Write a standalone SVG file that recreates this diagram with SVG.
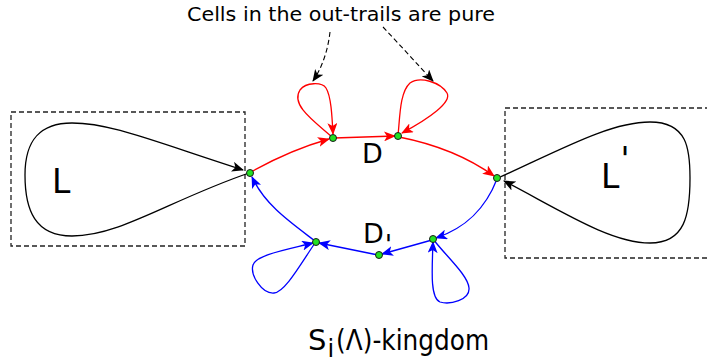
<svg xmlns="http://www.w3.org/2000/svg" width="707" height="362" viewBox="0 0 707 362">
<style>
text{font-family:"DejaVu Sans","Liberation Sans",sans-serif;fill:#000}
.box{fill:none;stroke:#222;stroke-width:1.3;stroke-dasharray:5,3}
.blk{fill:none;stroke:#000;stroke-width:1.3}
.red{fill:none;stroke:#f00;stroke-width:1.3}
.blue{fill:none;stroke:#00f;stroke-width:1.3}
.dash{fill:none;stroke:#000;stroke-width:1.1;stroke-dasharray:5,3}
.node{fill:#22e022;stroke:#1a1a1a;stroke-width:1}
</style>
<defs>
<marker id="ak" viewBox="0 0 12 10" refX="11" refY="5" markerWidth="12" markerHeight="10" markerUnits="userSpaceOnUse" orient="auto"><path d="M0,0 L12,5 L0,10 L3,5 z" fill="#000"/></marker>
<marker id="ar" viewBox="0 0 12 10" refX="11" refY="5" markerWidth="12" markerHeight="10" markerUnits="userSpaceOnUse" orient="auto"><path d="M0,0 L12,5 L0,10 L3,5 z" fill="#f00"/></marker>
<marker id="ab" viewBox="0 0 12 10" refX="11" refY="5" markerWidth="12" markerHeight="10" markerUnits="userSpaceOnUse" orient="auto"><path d="M0,0 L12,5 L0,10 L3,5 z" fill="#00f"/></marker>
</defs>
<g id="boxes">
<rect class="box" x="11" y="112" width="234" height="134"/>
<rect class="box" x="505" y="108" width="210" height="150"/>
</g>
<g id="connectors">
<path class="blk" d="M249,173 C170,200 120,236 72,236 C35,236 25,210 25,175 C25,140 40,123 72,123 C110,123 150,140 243,170" marker-end="url(#ak)"/>
<path class="blk" d="M498,178 C560,150 610,122 650,122 C688,122 690,150 690,178 C690,215 685,243 650,243 C610,243 560,210 504,181" marker-end="url(#ak)"/>
<path class="red" d="M251,172 Q290,150 329,139" marker-end="url(#ar)"/>
<path class="red" d="M334,138 L395,136" marker-end="url(#ar)"/>
<path class="red" d="M399,137 Q455,148 494,176" marker-end="url(#ar)"/>
<path class="red" d="M332,137 C315,122 290,105 300,90 C306,82 322,82 326,88 C331,96 332,115 333,134" marker-end="url(#ar)"/>
<path class="red" d="M398,136 C400,115 400,92 410,83 C420,76 440,82 447,93 C452,102 430,118 402,133" marker-end="url(#ar)"/>
<path class="dash" d="M330,32 C328,50 322,68 313,81" marker-end="url(#ak)"/>
<path class="dash" d="M383,27 C400,45 418,65 433,81" marker-end="url(#ak)"/>
<path class="blue" d="M497,179 C485,210 465,228 436,238" marker-end="url(#ab)"/>
<path class="blue" d="M432,240 L382,254" marker-end="url(#ab)"/>
<path class="blue" d="M378,255 L319,243" marker-end="url(#ab)"/>
<path class="blue" d="M315,241 C290,222 265,205 252,177" marker-end="url(#ab)"/>
<path class="blue" d="M315,243 C300,265 285,292 274,293 C262,294 250,275 253,265 C256,255 285,250 313,243" marker-end="url(#ab)"/>
<path class="blue" d="M433,239 C445,255 468,275 469,288 C470,300 450,305 440,302 C430,298 432,270 433,242" marker-end="url(#ab)"/>
</g>
<g id="n1"><circle class="node" cx="250" cy="173" r="3.5"/></g>
<g id="n2"><circle class="node" cx="333" cy="138" r="3.5"/></g>
<g id="n3"><circle class="node" cx="398" cy="136" r="3.5"/></g>
<g id="n4"><circle class="node" cx="497" cy="178" r="3.5"/></g>
<g id="n5"><circle class="node" cx="433" cy="239" r="3.5"/></g>
<g id="n6"><circle class="node" cx="379" cy="255" r="3.5"/></g>
<g id="n7"><circle class="node" cx="316" cy="242" r="3.5"/></g>
<g id="labels">
<text x="187" y="21" font-size="20" textLength="308" lengthAdjust="spacingAndGlyphs">Cells in the out-trails are pure</text>
<text x="52" y="193" font-size="33">L</text>
<text x="601" y="188" font-size="33">L<tspan dy="-17" dx="1">'</tspan></text>
<text x="362" y="163" font-size="27">D</text>
<text x="363" y="243" font-size="27">D<tspan dy="11" dx="1">'</tspan></text>
<text x="308" y="350" font-size="29">S<tspan dy="7" dx="1" font-size="24">i</tspan><tspan dy="-7" dx="2" textLength="153" lengthAdjust="spacingAndGlyphs">(Λ)-kingdom</tspan></text>
</g>
</svg>
